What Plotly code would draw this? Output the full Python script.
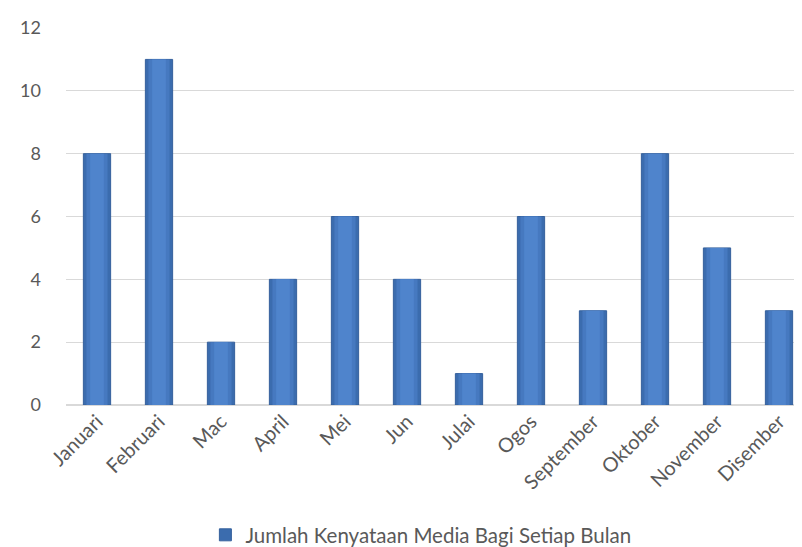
import plotly.graph_objects as go

months = ["Januari", "Februari", "Mac", "April", "Mei", "Jun", "Julai", "Ogos",
          "September", "Oktober", "November", "Disember"]
counts = [8, 11, 2, 4, 6, 4, 1, 6, 3, 8, 5, 3]
series_name = "Jumlah Kenyataan Media Bagi Setiap Bulan"
y_ticks = [0, 2, 4, 6, 8, 10, 12]

font = "Lato, 'Open Sans', sans-serif"

fig = go.Figure()
# layered bars to imitate the bevelled gradient
fig.add_trace(go.Bar(x=months, y=counts, name=series_name, width=0.44,
                     marker=dict(color="#3b6cae", line=dict(color="#35609c", width=1)),
                     showlegend=True, hoverinfo="skip"))
fig.add_trace(go.Bar(x=months, y=counts, width=0.34,
                     marker=dict(color="#4679c0", line=dict(width=0)),
                     showlegend=False, hoverinfo="skip"))
fig.add_trace(go.Bar(x=months, y=counts, width=0.22,
                     marker=dict(color="#4f84cc", line=dict(width=0)),
                     showlegend=False))

fig.update_layout(
    width=802, height=547,
    barmode="overlay",
    paper_bgcolor="white", plot_bgcolor="white",
    margin=dict(l=58, r=0, t=20, b=142),
    font=dict(family=font, size=20, color="#595959"),
    showlegend=True,
    legend=dict(orientation="h", x=0.477, xanchor="center", y=-0.345, yanchor="middle",
                itemwidth=30,
                font=dict(size=20.5, color="#595959")),
    xaxis=dict(tickangle=-45, showline=False, ticks="", showgrid=False, automargin=False,
               tickfont=dict(size=20, color="#595959")),
    yaxis=dict(range=[0, 12], tickvals=y_ticks, showgrid=True, gridcolor="#d9d9d9",
               gridwidth=1, zeroline=True, zerolinecolor="#d9d9d9", ticks="",
               automargin=False,
               tickfont=dict(size=18, color="#595959"), ticklabelstandoff=24),
)

fig.write_html("out.html")
